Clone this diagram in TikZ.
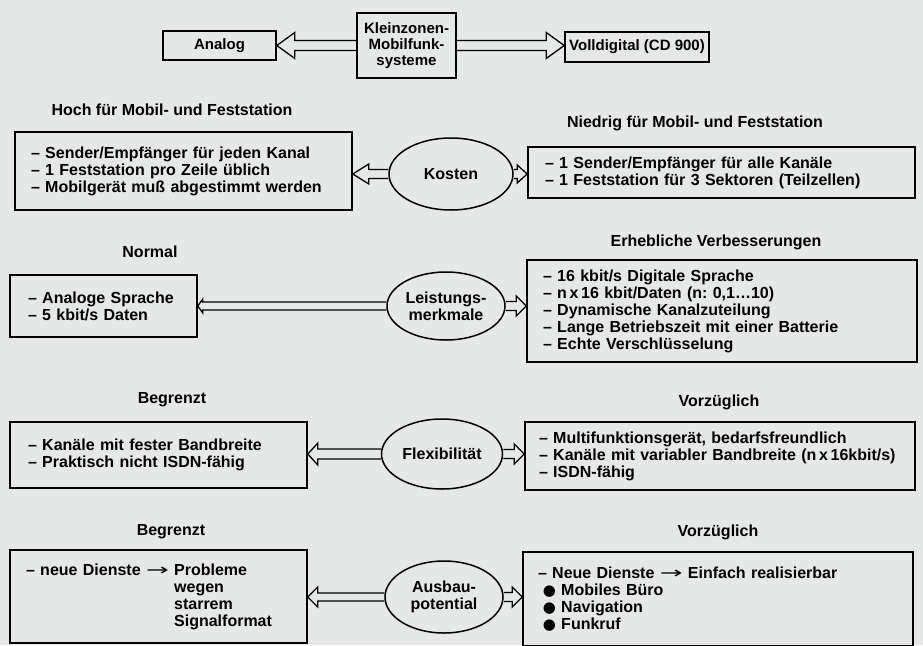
\documentclass[tikz,border=0pt]{standalone}
\usepackage{fontspec}
\usepackage{graphicx}
\setmainfont{Liberation Sans}
\newfontfamily\symfont{DejaVu Sans}
\usetikzlibrary{calc,shapes.geometric}
\definecolor{bg}{RGB}{229,232,230}
\frenchspacing
\newcommand\harrL[5]{\draw[harrow] let \p1=(#1), \p2=(#2) in (\x1,\y1+#3) -- (\x2+#5,\y1+#3) -- (\x2+#5,\y1+#4) -- (\x2,\y1) -- (\x2+#5,\y1-#4) -- (\x2+#5,\y1-#3) -- (\x1,\y1-#3);}
\newcommand\harrR[5]{\draw[harrow] let \p1=(#1), \p2=(#2) in (\x1,\y1+#3) -- (\x2-#5,\y1+#3) -- (\x2-#5,\y1+#4) -- (\x2,\y1) -- (\x2-#5,\y1-#4) -- (\x2-#5,\y1-#3) -- (\x1,\y1-#3);}
\newcommand\arr{\scalebox{1.7}[1]{\symfont\mdseries →}}
\newcommand\bul{{\symfont\fontsize{15}{15}\selectfont ●}}
\begin{document}
\begin{tikzpicture}[x=1pt,y=-1pt,
  font=\fontsize{16}{17}\selectfont\bfseries\frenchspacing,
  box/.style={draw, line width=1.6pt, rectangle, inner ysep=0pt, align=left},
  tbox/.style={draw, line width=1.6pt, rectangle, inner sep=0pt, align=center, font=\fontsize{15}{16}\selectfont\bfseries},
  oval/.style={draw, line width=1.5pt, ellipse, inner sep=0pt, align=center},
  harrow/.style={draw, line width=1.3pt, line join=miter},
  lbl/.style={inner sep=0pt}]
\fill[bg] (0,0) rectangle (923,645);
\useasboundingbox (0,0) rectangle (923,645);

% top row
\node[tbox, minimum width=113, minimum height=29] (analog) at (219.5,45.5) {Analog};
\node[tbox, minimum width=99, minimum height=65] (klein) at (406.5,45.5) {Kleinzonen-\\Mobilfunk-\\systeme};
\node[tbox, minimum width=144, minimum height=30] (voll) at (637,47) {Volldigital (CD 900)};
\harrL{klein.west}{analog.east}{5pt}{13pt}{18pt}
\harrR{klein.east}{voll.west}{5pt}{13pt}{18pt}

% row 2: Kosten
\node[lbl] (l2) at (172,110) {Hoch für Mobil- und Feststation};
\node[lbl] (r2) at (695,123) {Niedrig für Mobil- und Feststation};
\node[box, text width=305, inner xsep=16, minimum height=78] (L2) at (183.5,171)
  {– Sender/Empfänger für jeden Kanal\\– 1 Feststation pro Zeile üblich\\– Mobilgerät muß abgestimmt werden};
\node[box, text width=353, inner xsep=17, minimum height=51] (R2) at (721.5,172.5)
  {– 1 Sender/Empfänger für alle Kanäle\\– 1 Feststation für 3 Sektoren (Teilzellen)};
\node[oval, minimum width=124, minimum height=72] (kosten) at (451,174) {Kosten};
\harrL{kosten.west}{L2.east}{4.5pt}{10pt}{16pt}
\harrR{kosten.east}{R2.west}{4.5pt}{9pt}{10pt}

% row 3: Leistungsmerkmale
\node[lbl] (l3) at (150,252) {Normal};
\node[lbl] (r3) at (716,242) {Erhebliche Verbesserungen};
\node[box, text width=151, inner xsep=18, minimum height=62] (L3) at (103.5,306)
  {– Analoge Sprache\\– 5 kbit/s Daten};
\node[box, text width=358, inner xsep=16, minimum height=102] (R3) at (722,311)
  {– 16 kbit/s Digitale Sprache\\– n\,x\,16 kbit/Daten (n: 0,1…10)\\– Dynamische Kanalzuteilung\\– Lange Betriebszeit mit einer Batterie\\– Echte Verschlüsselung};
\node[oval, minimum width=118, minimum height=68] (leist) at (446,306) {Leistungs-\\merkmale};
\harrL{leist.west}{L3.east}{4pt}{7pt}{5pt}
\harrR{leist.east}{R3.west}{4.5pt}{10pt}{10pt}

% row 4: Flexibilitaet
\node[lbl] (l4) at (172,400) {Begrenzt};
\node[lbl] (r4) at (719,402) {Vorzüglich};
\node[box, text width=261, inner xsep=18, minimum height=66] (L4) at (158.5,455)
  {– Kanäle mit fester Bandbreite\\– Praktisch nicht ISDN-fähig};
\node[box, text width=362, inner xsep=14, minimum height=68] (R4) at (720,456)
  {– Multifunktionsgerät, bedarfsfreundlich\\– Kanäle mit variabler Bandbreite (n\,x\,16kbit/s)\\– ISDN-fähig};
\node[oval, minimum width=121, minimum height=70] (flex) at (442,454) {Flexibilität};
\harrL{flex.west}{L4.east}{5pt}{11pt}{10pt}
\harrR{flex.east}{R4.west}{4.5pt}{10pt}{10pt}

% row 5: Ausbaupotential
\node[lbl] (l5) at (171,532) {Begrenzt};
\node[lbl] (r5) at (718,532) {Vorzüglich};
\node[box, text width=265, inner xsep=16, minimum height=93] (L5) at (158.5,596.5)
  {– neue Dienste \arr{} Probleme\\\hphantom{– neue Dienste \arr{} }wegen\\\hphantom{– neue Dienste \arr{} }starrem\\\hphantom{– neue Dienste \arr{} }Signalformat};
\node[box, text width=360, inner xsep=15, minimum height=94] (R5) at (718,599)
  {– Neue Dienste \arr{} Einfach realisierbar\\\hspace*{0.3em}\bul{} Mobiles Büro\\\hspace*{0.3em}\bul{} Navigation\\\hspace*{0.3em}\bul{} Funkruf};
\node[oval, minimum width=118, minimum height=72] (ausbau) at (444,597) {Ausbau-\\potential};
\harrL{ausbau.west}{L5.east}{4pt}{10pt}{10pt}
\harrR{ausbau.east}{R5.west}{4.5pt}{10pt}{10pt}
\end{tikzpicture}
\end{document}
